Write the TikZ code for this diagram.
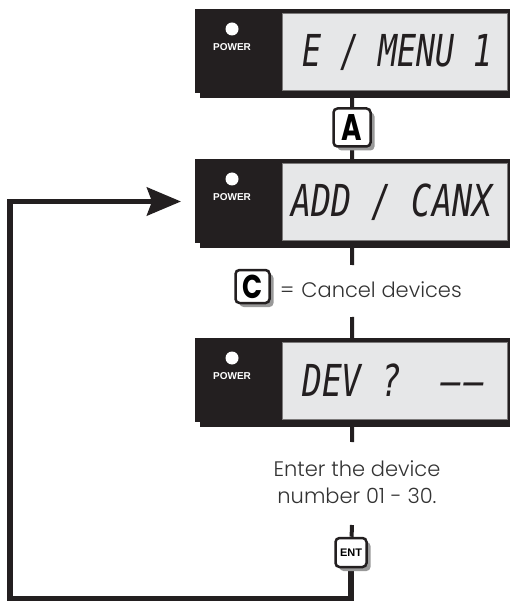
\documentclass[tikz,border=0pt]{standalone}
\usepackage{fontspec}
\setmainfont{Poppins}
\newfontfamily\lightfont{Poppins Light}
\newfontfamily\lcdfont{DejaVu Sans Mono}
\newfontfamily\helv{Liberation Sans}
\usetikzlibrary{arrows.meta,shadows,backgrounds}

\definecolor{ink}{HTML}{231F20}
\definecolor{lcdgray}{HTML}{E6E7E8}
\definecolor{txt}{HTML}{333333}

\tikzset{
  display/.style={fill=ink, draw=none, minimum width=315pt, minimum height=84pt, inner sep=0pt,
    drop shadow={shadow xshift=5pt, shadow yshift=-5pt, fill=ink, opacity=1}},
  lcd/.style={fill=lcdgray, draw=ink!60, line width=0.8pt, minimum width=225pt, minimum height=77pt, inner sep=0pt},
  lcdtext/.style={font=\lcdfont\itshape\fontsize{44}{44}\selectfont, text=ink, inner sep=0pt, anchor=base west},
  powertext/.style={font=\helv\bfseries\fontsize{10}{12}\selectfont, text=white, inner sep=0pt},
  powerdot/.style={circle, fill=white, minimum size=13pt, inner sep=0pt},
  keybox/.style={draw=ink, fill=white, line width=2.5pt, rounded corners=4pt, inner sep=0pt,
    drop shadow={shadow xshift=4pt, shadow yshift=-4pt, fill=black!40, opacity=1}},
  conn/.style={draw=ink, line width=4pt},
  loopline/.style={draw=ink, line width=5.5pt, -{Stealth[length=34pt,width=28pt,inset=5pt]}},
  note/.style={font=\lightfont\fontsize{21}{27.5}\selectfont, text=txt, inner sep=0pt},
}

\newcommand\mydisplay[4]{%
  \node[display] (#1) at (352.5, #2+42) {};
  \node[lcd] (#1l) at (394.5, #2+42.5) {};
  \node[powerdot] (#1d) at (232, #2+20) {};
  \node[powertext] (#1p) at (232, #2+38) {POWER};
  \node[lcdtext] (#1t) at (#4, #2+58) {#3};
}

\begin{document}
\begin{tikzpicture}[x=1pt, y=-1pt]
  \useasboundingbox (0,0) rectangle (510,601);

  \mydisplay{d1}{9}{\scalebox{0.72}[1]{E~/~MENU~1}}{302}
  \mydisplay{d2}{159}{\scalebox{0.76}[1]{ADD~/~CANX}}{291}
  \mydisplay{d3}{338}{\scalebox{0.75}[1]{DEV~?~~–\kern5pt–}}{302}

  % A key
  \node[keybox, minimum width=37pt, minimum height=38pt] (ka) at (352, 127.5)
    {\bfseries\fontsize{37}{37}\selectfont\scalebox{0.75}[1]{A}};

  % C key and note
  \node[keybox, minimum width=34pt, minimum height=33pt] (kc) at (252.5, 286.5)
    {\bfseries\fontsize{33}{33}\selectfont\scalebox{0.8}[1]{C}};
  \node[note, anchor=base west] (ctext) at (280, 297) {=\,\,Cancel devices};
  \coordinate (c1) at (352, 265);
  \coordinate (c2) at (352, 317);

  % Enter note
  \node[note, align=center] (etext) at (357, 482) {Enter the device\\number 01 - 30.};
  \coordinate (e1) at (352, 442);
  \coordinate (e2) at (352, 525);

  % ENT key
  \node[keybox, minimum width=31pt, minimum height=29pt] (kent) at (351, 552.5)
    {\helv\bfseries\fontsize{11}{11}\selectfont ENT};

  % loop coordinates
  \coordinate (bl) at (10, 598.5);
  \coordinate (tl) at (10, 201.5);
  \coordinate (tip) at (181, 201.5);

  \begin{pgfonlayer}{background}
    \draw[conn] (d1) -- (ka);
    \draw[conn] (ka) -- (d2);
    \draw[conn] (d2) -- (c1);
    \draw[conn] (c2) -- (d3);
    \draw[conn] (d3) -- (e1);
    \draw[conn] (e2) -- (kent);
    \draw[loopline] (kent) -- (kent |- bl) -- (bl) -- (tl) -- (tip);
  \end{pgfonlayer}
\end{tikzpicture}
\end{document}
